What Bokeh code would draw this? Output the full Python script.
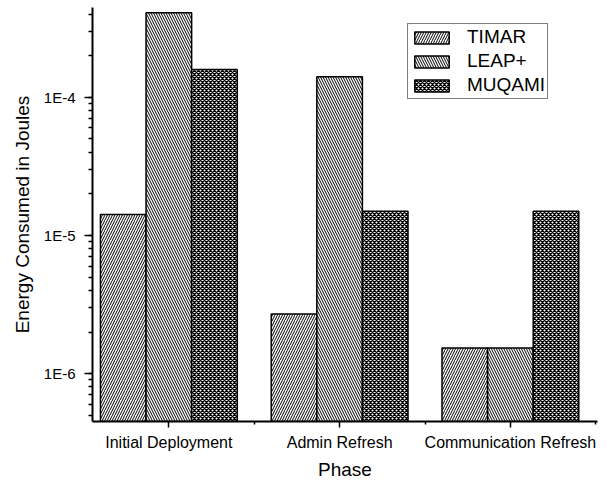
from bokeh.plotting import figure
from bokeh.models import (ColumnDataSource, FixedTicker, CustomJSTickFormatter, Legend, LegendItem, Range1d)
from bokeh.embed import file_html
from bokeh.resources import INLINE

phases = ["Initial Deployment", "Admin Refresh", "Communication Refresh"]
series = ["TIMAR", "LEAP+", "MUQAMI"]
timar = [1.42e-5, 2.7e-6, 1.53e-6]
leap = [4.1e-4, 1.41e-4, 1.53e-6]
muqami = [1.59e-4, 1.5e-5, 1.5e-5]

FONT = "Liberation Sans"

p = figure(width=610, height=483, y_axis_type="log",
           x_range=Range1d(0.553, 3.51), y_range=Range1d(4.5e-7, 4.47e-4),
           output_backend="svg", toolbar_location=None,
           min_border_left=92, min_border_right=13, min_border_top=7, min_border_bottom=62)
p.outline_line_color = None
p.xgrid.visible = False
p.ygrid.visible = False
p.background_fill_color = "white"

bw = 0.267
patterns = ["/", "\\", "x"]
scales = [5, 5, 4]
weights = [1, 1, 1.4]
vals = [timar, leap, muqami]
items = []
for k, (name, v, pat, sc, wt) in enumerate(zip(series, vals, patterns, scales, weights)):
    xs = [i + 1 + (k - 1) * bw for i in range(len(phases))]
    src = ColumnDataSource(dict(x=xs, top=v, bottom=[1e-7] * len(v)))
    r = p.vbar(x="x", top="top", bottom="bottom", width=bw, source=src,
               fill_color="white", line_color="black", line_width=1.5,
               hatch_pattern=pat, hatch_scale=sc, hatch_weight=wt, hatch_color="black")
    items.append(LegendItem(label=name, renderers=[r]))

legend = Legend(items=items, location=(315, 322), glyph_width=43, glyph_height=15,
                label_standoff=14, spacing=2, padding=2, margin=0,
                label_text_font=FONT, label_text_font_size="19px", label_text_color="black",
                border_line_color="black", border_line_width=1, background_fill_alpha=1)
p.add_layout(legend)

# x axis
p.xaxis.ticker = FixedTicker(ticks=[1, 2, 3], minor_ticks=[1.5, 2.5, 3.5])
p.xaxis.major_label_overrides = {1: phases[0], 2: phases[1], 3: phases[2]}
p.xaxis.axis_label = "Phase"

# y axis
p.yaxis.formatter = CustomJSTickFormatter(code="return '1E' + Math.round(Math.log10(tick));")
p.yaxis.axis_label = "Energy Consumed in Joules"

for ax in [p.xaxis[0], p.yaxis[0]]:
    ax.axis_line_color = "black"
    ax.axis_line_width = 2
    ax.major_tick_line_color = "black"
    ax.major_tick_line_width = 1.5
    ax.minor_tick_line_color = "black"
    ax.minor_tick_line_width = 1.5
    ax.major_tick_in = 0
    ax.minor_tick_in = 0
    ax.major_label_text_font = FONT
    ax.major_label_text_color = "black"
    ax.axis_label_text_font = FONT
    ax.axis_label_text_font_size = "19px"
    ax.axis_label_text_font_style = "normal"
    ax.axis_label_text_color = "black"

p.xaxis.major_label_text_font_size = "16px"
p.yaxis.major_label_text_font_size = "15px"
p.xaxis.major_tick_out = 6
p.xaxis.minor_tick_out = 3
p.xaxis.major_label_standoff = 6
p.xaxis.axis_label_standoff = 5
p.yaxis.major_tick_out = 8
p.yaxis.minor_tick_out = 4
p.yaxis.major_label_standoff = 9
p.yaxis.axis_label_standoff = 8
p.yaxis.major_label_orientation = "horizontal"

open("out.html", "w").write(file_html(p, INLINE))
